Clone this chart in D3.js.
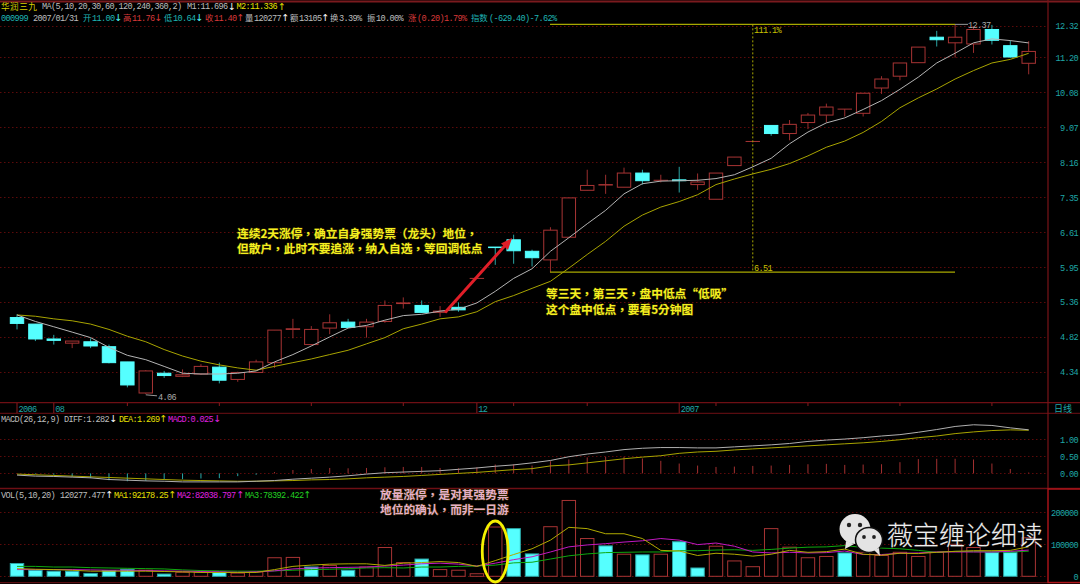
<!DOCTYPE html>
<html><head><meta charset="utf-8">
<script src="https://cdn.jsdelivr.net/npm/d3@7/dist/d3.min.js"></script>
<style>
html,body{margin:0;padding:0;background:#000;overflow:hidden}
svg{display:block}
</style></head><body><svg id="c" width="1080" height="584"></svg>
<script>
const open  = [5.11,5.01,4.79,4.73,4.75,4.68,4.47,4.07,4.32,4.28,4.31,4.40,4.24,4.33,4.46,4.93,4.71,4.95,5.04,4.97,5.05,5.33,5.30,5.19,5.27,5.75,6.32,6.46,6.24,6.08,6.51,7.50,7.62,7.57,7.90,7.73,7.74,7.63,7.30,8.08,8.69,9.12,8.90,9.20,9.41,9.58,9.46,10.21,10.58,11.02,11.90,11.70,11.66,12.18,11.60,11.00];
const high  = [5.16,5.01,4.85,4.76,4.80,4.71,4.47,4.36,4.35,4.37,4.44,4.46,4.34,4.50,4.92,5.09,4.98,5.16,5.09,5.09,5.38,5.43,5.38,5.29,5.35,5.75,6.32,6.56,6.27,6.71,7.33,7.98,7.86,8.03,7.98,7.86,8.05,7.89,7.90,8.29,8.69,9.12,9.27,9.47,9.74,9.58,10.05,10.58,11.01,11.55,12.13,12.37,12.28,12.35,11.79,11.76];
const low   = [4.93,4.76,4.71,4.66,4.66,4.45,4.14,4.06,4.26,4.27,4.30,4.19,4.21,4.33,4.39,4.80,4.70,4.86,4.95,4.81,5.03,5.25,5.18,5.12,5.20,5.75,5.99,6.01,5.96,5.86,6.51,7.50,7.42,7.57,7.63,7.68,7.45,7.51,7.30,8.08,8.69,8.84,8.72,9.02,9.20,9.37,9.37,10.03,10.45,11.02,11.57,11.19,11.35,11.64,11.19,10.64];
const close = [5.02,4.79,4.77,4.76,4.69,4.46,4.17,4.35,4.29,4.30,4.41,4.23,4.33,4.47,4.92,4.94,4.93,5.03,4.96,5.04,5.30,5.34,5.19,5.21,5.23,5.75,6.31,6.25,6.12,6.65,7.33,7.61,7.63,7.90,7.72,7.73,7.72,7.69,7.90,8.29,8.69,8.90,9.15,9.41,9.64,9.58,10.05,10.49,11.01,11.55,11.81,11.90,12.18,11.79,11.21,11.40];
const ma1   = [5.15,5.05,4.97,4.89,4.81,4.67,4.56,4.50,4.41,4.32,4.31,4.31,4.32,4.35,4.47,4.57,4.69,4.82,4.95,4.99,5.07,5.14,5.16,5.21,5.24,5.34,5.53,5.75,5.92,6.24,6.50,6.78,7.06,7.42,7.65,7.71,7.72,7.73,7.77,7.86,8.05,8.26,8.63,8.94,9.19,9.33,9.57,9.83,10.17,10.55,11.01,11.34,11.70,11.84,11.78,11.696];
const ma2   = [5.15,5.13,5.09,5.06,5.01,4.93,4.83,4.75,4.64,4.55,4.48,4.43,4.39,4.36,4.41,4.46,4.51,4.57,4.63,4.72,4.81,4.94,5.01,5.09,5.12,5.20,5.36,5.46,5.58,5.70,5.93,6.18,6.43,6.73,6.96,7.13,7.25,7.40,7.63,7.76,7.88,7.99,8.13,8.32,8.54,8.70,8.93,9.23,9.62,9.91,10.18,10.49,10.76,11.01,11.13,11.336];
const diff  = [-0.05,-0.08,-0.09,-0.11,-0.13,-0.18,-0.20,-0.22,-0.23,-0.25,-0.25,-0.25,-0.25,-0.23,-0.21,-0.17,-0.14,-0.11,-0.07,-0.02,0.02,0.04,0.06,0.08,0.12,0.16,0.21,0.25,0.31,0.38,0.49,0.57,0.63,0.70,0.74,0.76,0.76,0.75,0.75,0.78,0.81,0.84,0.88,0.94,0.98,1.01,1.05,1.10,1.14,1.21,1.29,1.38,1.43,1.41,1.34,1.282];
const dea   = [-0.02,-0.04,-0.06,-0.08,-0.10,-0.12,-0.14,-0.16,-0.18,-0.20,-0.21,-0.22,-0.23,-0.23,-0.22,-0.21,-0.19,-0.18,-0.16,-0.13,-0.11,-0.09,-0.06,-0.03,0,0.03,0.07,0.11,0.14,0.22,0.25,0.31,0.37,0.43,0.48,0.52,0.59,0.63,0.65,0.69,0.72,0.75,0.78,0.81,0.84,0.87,0.90,0.94,0.99,1.05,1.10,1.17,1.22,1.26,1.28,1.269];
const macd  = [0,-0.02,-0.04,-0.10,-0.14,-0.20,-0.23,-0.22,-0.17,-0.17,-0.15,-0.14,-0.08,-0.04,0.04,0.10,0.13,0.16,0.15,0.16,0.18,0.19,0.19,0.16,0.15,0.18,0.26,0.27,0.23,0.36,0.41,0.47,0.49,0.49,0.44,0.37,0.29,0.23,0.19,0.20,0.22,0.23,0.25,0.27,0.28,0.25,0.26,0.27,0.33,0.42,0.43,0.43,0.41,0.29,0.13,0.025];
const volK  = [40,19,16,16,9,18,22,19,7,12.5,12.5,13.5,10,13.5,58,59,29,34,19,29,90,43,54,21,19,8,154,149,70,155,237,118,95,69,67,69,108,26,94,48,30,149,91,58,62,73,75,65,75,62,75,100,90,74,74,120.277];
const volMa1= [24,22,21,19,16,16,16,16,15,14,12,12,12,12,21,31,35,38,39,39,34,41,43,46,43,31,49,68,86,113,153,149,133,133,118,81,79,65,72,69,63,69,81,75,77,85,69,66,72,71,75,78,80,80,81,92.18];
const volMa2= [21,21,21,21,20,19,19,18,17,16,15,14,12.5,14,17,23,26,27,28,29,32,35,39,41,38,32,41,52,61,76,92,98,102,107,111,118,113,99,104,94,76,73,75,73,74,79,68,68,72,73,76,76,76,76,78,82.04];
const volMa3= [31,31,29,29,27,26,25,24,23,20,18,17,16,16,17,19,21,22,24,26,27,26,29,29,31,32,35,42,44,54,64,70,74,75,76,76,80,80,82,83,81,84,88,91,92,96,90,88,86,81,75,78,77,77,76,78.39];
const volDown = [0,1,2,3,4,5,6,8,11,16,18,22,27,28,32,34,36,37,45,53,54];
const priceTicks = [4.34,4.82,5.36,5.95,6.61,7.35,8.16,9.07,10.08,11.20,12.32];
const macdTicks = [0,0.5,1];
const volTicks = [0,100,200];
const dateTicks = [0,2,6,11,16,21,25,27,31,36,38,43,48,53];
const dateLabels = {0:"2006",2:"08",25:"12",36:"2007"};

const W=1080,H=584, axisX=1048;
const svg=d3.select("#c");
const mono="'Liberation Mono','DejaVu Sans Mono',monospace";
const cjk="'Noto Sans CJK TC','Noto Sans CJK SC','Liberation Mono',sans-serif";
const RED="#a83434",CY="#55ffff",TEAL="#1fa7a7",FR="#6e0f14",GRID="#5c0a0a";
const FS=8.6, LS="-0.66px", CS=8.4;

svg.append("rect").attr("width",W).attr("height",H).attr("fill","#000");
const x=d3.scaleLinear().domain([0,55]).range([17,1028.7]);
const y=d3.scaleLog().domain([4.34,12.32]).range([371.7,25.7]);
const ym=d3.scaleLinear().domain([0,1]).range([473.4,439.4]);
const yv=d3.scaleLinear().domain([0,200]).range([576.3,512.3]);
const bw=13.4;
const idx=d3.range(open.length);

// grid
function grid(vals,s){
  svg.append("g").selectAll("line").data(vals).join("line")
    .attr("x1",0).attr("x2",axisX).attr("y1",d=>Math.round(s(d))+.5).attr("y2",d=>Math.round(s(d))+.5)
    .attr("stroke",GRID).attr("stroke-width",1).attr("stroke-dasharray","1.5 2.5");
}
grid(priceTicks,y);grid(macdTicks,ym);grid(volTicks,yv);

// frame
[[0,1.5,W,1.5,"#7a1a1e",2],[0,402.7,W,402.7,FR,1.2],[0,413.3,W,413.3,FR,1],[0,488.5,W,488.5,FR,1.4],[0,582.7,W,582.7,FR,1],
 [axisX,0,axisX,489,"#7a1418",1.2]].forEach(l=>svg.append("line").attr("x1",l[0]).attr("y1",l[1]).attr("x2",l[2]).attr("y2",l[3]).attr("stroke",l[4]).attr("stroke-width",l[5]));
svg.append("rect").attr("x",axisX).attr("y",489).attr("width",W-axisX+2).attr("height",93.5).attr("fill","none").attr("stroke","#b0141a").attr("stroke-width",1.4);

// axes
function rightAxis(s,vals,fmt){
  const g=svg.append("g").attr("transform","translate(1078,0)")
    .call(d3.axisLeft(s).tickValues(vals).tickFormat(fmt).tickSize(0).tickPadding(0));
  g.select(".domain").remove();
  g.selectAll("text").attr("fill",TEAL).attr("font-family",mono).attr("font-size",FS).attr("letter-spacing",LS).attr("dy",".35em");
}
rightAxis(y,priceTicks,d3.format(".2f"));
rightAxis(ym,macdTicks,d3.format(".2f"));
rightAxis(yv,volTicks,d=>d*1000);

// date axis
const dg=svg.append("g");
dg.selectAll("line").data(dateTicks).join("line")
  .attr("x1",d=>x(d)).attr("x2",d=>x(d)).attr("y1",403).attr("y2",d=>dateLabels[d]?413:406)
  .attr("stroke","#8a1a1e").attr("stroke-width",1);
dg.selectAll("text").data(dateTicks.filter(d=>dateLabels[d])).join("text")
  .attr("x",d=>x(d)+1.5).attr("y",411.5).text(d=>dateLabels[d])
  .attr("fill",TEAL).attr("font-family",mono).attr("font-size",FS).attr("letter-spacing",LS);
svg.append("text").attr("x",1054).attr("y",412).text("日线").attr("fill",TEAL).attr("font-family",cjk).attr("font-size",9);

// candles
const isUp=i=>close[i]>=open[i];
const cg=svg.append("g");
cg.selectAll("line").data(idx).join("line")
  .attr("x1",i=>x(i)).attr("x2",i=>x(i)).attr("y1",i=>y(high[i])).attr("y2",i=>y(low[i]))
  .attr("stroke",i=>isUp(i)?"#9a2e2e":"#2aa5a5").attr("stroke-width",1);
cg.selectAll("rect").data(idx).join("rect")
  .attr("x",i=>x(i)-bw/2).attr("width",bw)
  .attr("y",i=>y(Math.max(open[i],close[i])))
  .attr("height",i=>Math.max(0.01,Math.abs(y(open[i])-y(close[i]))))
  .attr("fill",i=>isUp(i)?"#000":CY)
  .attr("stroke",i=>isUp(i)?RED:CY).attr("stroke-width",1);

// measurement lines
const hiP=12.37,loP=5.86;
[hiP,loP].forEach(p=>svg.append("line").attr("x1",550).attr("x2",955).attr("y1",y(p)).attr("y2",y(p)).attr("stroke","#a8a800").attr("stroke-width",1.2));
svg.append("line").attr("x1",x(40)).attr("x2",x(40)).attr("y1",y(hiP)).attr("y2",y(loP)).attr("stroke","#a8a800").attr("stroke-width",1).attr("stroke-dasharray","2 2");

// MA lines
function ln(arr,s,col,w){
  svg.append("path").attr("d",d3.line().x((d,i)=>x(i)).y(d=>s(d))(arr)).attr("fill","none").attr("stroke",col).attr("stroke-width",w||1);
}
ln(ma2,y,"#a8a400",1);
ln(ma1,y,"#b4b4b4",1);

// macd
svg.append("g").selectAll("line").data(idx).join("line")
  .attr("x1",i=>x(i)).attr("x2",i=>x(i)).attr("y1",ym(0)).attr("y2",i=>ym(macd[i]))
  .attr("stroke",i=>macd[i]>=0?"#a33030":"#28a8a8").attr("stroke-width",1);
ln(dea,ym,"#a8a400",1);
ln(diff,ym,"#b0b0b0",1);

// volume
const down=new Set(volDown);
svg.append("g").selectAll("rect").data(idx).join("rect")
  .attr("x",i=>x(i)-bw/2).attr("width",bw)
  .attr("y",i=>yv(volK[i])).attr("height",i=>yv(0)-yv(volK[i]))
  .attr("fill",i=>down.has(i)?CY:"#000")
  .attr("stroke",i=>down.has(i)?"#2aa5a5":RED).attr("stroke-width",1);
ln(volMa3,yv,"#0fa80f",1);
ln(volMa2,yv,"#c218c2",1);
ln(volMa1,yv,"#b0aa00",1);

// header text
function t(xp,yp,s,col,font,size){
  const e=svg.append("text").attr("x",xp).attr("y",yp).text(s).attr("fill",col).attr("font-family",font||mono).attr("font-size",size||FS);
  if(!font) e.attr("letter-spacing",LS);
  return e;
}
function ar(xp,yp,s,col){ return svg.append("text").attr("x",xp).attr("y",yp+.5).text(s).attr("fill",col).attr("font-family","'DejaVu Sans'").attr("font-size",9.5).attr("text-anchor","middle"); }
const GR="#bdbdbd",YL="#e8e000",TL="#1fb5b5",RD="#d83a3a",MG="#e020e0",GN="#22d022";
const r1=9;
t(1,10,"华润三九","#d8d000",cjk,8.6).attr("letter-spacing","0.5px");
t(42,r1,"MA(5,10,20,30,60,120,240,360,2)",GR);
t(187,r1,"M1:11.696",GR); ar(232,r1,"↓","#fff");
t(236.5,r1,"M2:11.336",YL); ar(282,r1,"↑",YL);
const r2=20.5;
t(1,r2,"000999",TL); t(33,r2,"2007/01/31",GR);
t(83,r2,"开",TL,cjk,CS); t(92,r2,"11.00",TL); ar(118.5,r2,"↓",CY);
t(123,r2,"高",RD,cjk,CS); t(132,r2,"11.76",RD); ar(158.5,r2,"↓",RD);
t(164,r2,"低",TL,cjk,CS); t(173,r2,"10.64",TL); ar(199.5,r2,"↓",CY);
t(205,r2,"收",RD,cjk,CS); t(214,r2,"11.40",RD); ar(240.5,r2,"↑",RD);
t(245,r2,"量",GR,cjk,CS); t(254,r2,"120277",GR); ar(285.5,r2,"↑","#fff");
t(290,r2,"额",GR,cjk,CS); t(299,r2,"13105",GR); ar(325.5,r2,"↑","#fff");
t(330,r2,"换",GR,cjk,CS); t(339,r2,"3.39%",GR);
t(367,r2,"振",GR,cjk,CS); t(376,r2,"10.00%",GR);
t(408,r2,"涨",RD,cjk,CS); t(417,r2,"(0.20)1.79%",RD);
t(471,r2,"指数",TL,cjk,CS); t(489,r2,"(-629.40)-7.62%",TL);

t(1,421.5,"MACD(26,12,9)",GR); t(64,421.5,"DIFF:1.282",GR); ar(113.5,421.5,"↓","#fff");
t(119,421.5,"DEA:1.269",YL); ar(163.5,421.5,"↑",YL); t(168,421.5,"MACD:0.025",MG); ar(217.5,421.5,"↓",MG);
t(1,497.5,"VOL(5,10,20)",GR); t(60,497.5,"120277.477",GR); ar(109.5,497.5,"↑","#fff");
t(114,497.5,"MA1:92178.25",YL); ar(172.5,497.5,"↑",YL);
t(177,497.5,"MA2:82038.797",MG); ar(240.5,497.5,"↑",MG);
t(245,497.5,"MA3:78392.422",GN); ar(307.5,497.5,"↑",GN);

// price notes
svg.append("path").attr("d",`M${x(7)},${y(4.06)+1}L157,${y(4.06)+2}`).attr("stroke","#999").attr("fill","none");
t(158,399.5,"4.06","#aaa");
svg.append("path").attr("d",`M955,${y(hiP)}L968,${y(hiP)}`).attr("stroke","#999").attr("fill","none");
t(968,28,"12.37","#aaa");
t(754,33,"111.1%","#c8c000");
t(754,271,"6.51","#c8c000");

// annotations
function note(xp,yp,s,col){
  svg.append("text").attr("x",xp).attr("y",yp).text(s).attr("fill",col)
   .attr("font-family",cjk).attr("font-size",11.7).attr("font-weight",700)
   .attr("stroke","#332a00").attr("stroke-width",1).attr("paint-order","stroke");
}
const NY="#f5f020",NP="#e6b0c8";
note(237,237.8,"连续2天涨停，确立自身强势票（龙头）地位，",NY);
note(237,252.8,"但散户，此时不要追涨，纳入自选，等回调低点",NY);
note(546,297.5,"等三天，第三天，盘中低点“低吸”",NY);
note(546,313.5,"这个盘中低点，要看5分钟图",NY);
note(380,498.5,"放量涨停，是对其强势票",NP);
note(380,513.5,"地位的确认，而非一日游",NP);

// arrow
svg.append("line").attr("x1",445).attr("y1",312.5).attr("x2",506).attr("y2",244.5).attr("stroke","#e01e28").attr("stroke-width",3);
svg.append("path").attr("d","M512,238 L501,243.5 L508,250 Z").attr("fill","#e01e28");

// ellipse
svg.append("ellipse").attr("cx",x(26)).attr("cy",551.5).attr("rx",13).attr("ry",30.5).attr("fill","none").attr("stroke","#f5f000").attr("stroke-width",2.8);

// watermark
const wm=svg.append("g");
wm.append("path").attr("d","M846,541 L845,549 L854,544 Z").attr("fill","#e4e4e4");
wm.append("ellipse").attr("cx",855).attr("cy",529).attr("rx",15.5).attr("ry",15).attr("fill","#e4e4e4");
wm.append("ellipse").attr("cx",849).attr("cy",525).attr("rx",2.2).attr("ry",2.2).attr("fill","#222");
wm.append("ellipse").attr("cx",860).attr("cy",525).attr("rx",2.2).attr("ry",2.2).attr("fill","#222");
wm.append("ellipse").attr("cx",869).attr("cy",540).attr("rx",13.5).attr("ry",12.5).attr("fill","#e4e4e4").attr("stroke","#111").attr("stroke-width",1.5);
wm.append("ellipse").attr("cx",864).attr("cy",537).attr("rx",1.9).attr("ry",1.9).attr("fill","#222");
wm.append("ellipse").attr("cx",874).attr("cy",537).attr("rx",1.9).attr("ry",1.9).attr("fill","#222");
wm.append("path").attr("d","M874,550 L880,556 L879,548 Z").attr("fill","#e4e4e4");
svg.append("text").attr("x",887).attr("y",545).text("薇宝缠论细读").attr("fill","#eeeeee")
  .attr("font-family","'Noto Sans CJK SC'").attr("font-size",26).attr("font-weight",300).attr("stroke","#444").attr("stroke-width",.6).attr("paint-order","stroke");
</script></body></html>
